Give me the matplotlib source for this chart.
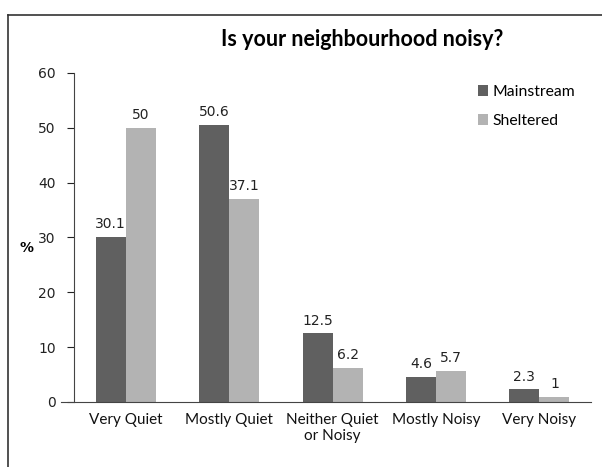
import matplotlib.pyplot as plt
import numpy as np
from matplotlib.lines import Line2D

categories = ["Very Quiet", "Mostly Quiet", "Neither Quiet\nor Noisy", "Mostly Noisy", "Very Noisy"]
mainstream = [30.1, 50.6, 12.5, 4.6, 2.3]
sheltered = [50, 37.1, 6.2, 5.7, 1]
series_names = ["Mainstream", "Sheltered"]

dark = "#606060"
light = "#b3b3b3"

fig = plt.figure(figsize=(6.02, 4.67), dpi=100)
ax = fig.add_axes([0.1229, 0.1392, 0.859, 0.7045])

x = np.arange(len(categories))
w = 0.29
b1 = ax.bar(x - w / 2, mainstream, w, color=dark, label=series_names[0])
b2 = ax.bar(x + w / 2, sheltered, w, color=light, label=series_names[1])

for bars, vals in ((b1, mainstream), (b2, sheltered)):
    for r, v in zip(bars, vals):
        ax.annotate(f"{v:g}", (r.get_x() + r.get_width() / 2, v), xytext=(0, 4),
                    textcoords="offset points", ha="center", va="bottom",
                    fontsize=10, family="DejaVu Sans", color="#222222")

ax.set_xlim(-0.5, len(categories) - 0.5)
ax.set_ylim(0, 60)
ax.set_yticks(range(0, 61, 10))
ax.tick_params(axis="y", direction="out", length=5, labelsize=10, pad=8, colors="#222222")
ax.tick_params(axis="x", length=0, pad=8)
ax.set_xticks(x)
ax.set_xticklabels(categories, fontsize=11, family="Lato", color="#111111")
for lab in ax.get_yticklabels():
    lab.set_family("DejaVu Sans")
for s in ("top", "right"):
    ax.spines[s].set_visible(False)
ax.spines["left"].set_color("#444444")
ax.spines["bottom"].set_color("#444444")
ax.spines["bottom"].set_bounds(-0.5 - 13 / 103.5, len(categories) - 0.5)
ax.spines["bottom"].set_clip_on(False)

fig.text(27 / 602, 1 - 248 / 467, "%", fontsize=10, fontweight="bold", family="DejaVu Sans",
         ha="center", va="center")
fig.text(362 / 602, 1 - 39 / 467, "Is your neighbourhood noisy?", fontsize=15.5,
         fontweight="bold", family="Lato", ha="center", va="center")

ax.legend(loc="upper left", bbox_to_anchor=(464 / 602, 1 - 71 / 467), bbox_transform=fig.transFigure,
          frameon=False, handlelength=0.65, handleheight=0.65, handletextpad=0.25,
          labelspacing=0.95, prop={"family": "Lato", "size": 11.3})

# outer frame: only left and top edges are visible in the picture
fx, fy = 8 / 602, 1 - 15 / 467
fig.add_artist(Line2D([fx, fx], [0, fy], transform=fig.transFigure, color="#333333", lw=1.2))
fig.add_artist(Line2D([fx, 1], [fy, fy], transform=fig.transFigure, color="#333333", lw=1.2))

fig.savefig("out.png", dpi=100)
